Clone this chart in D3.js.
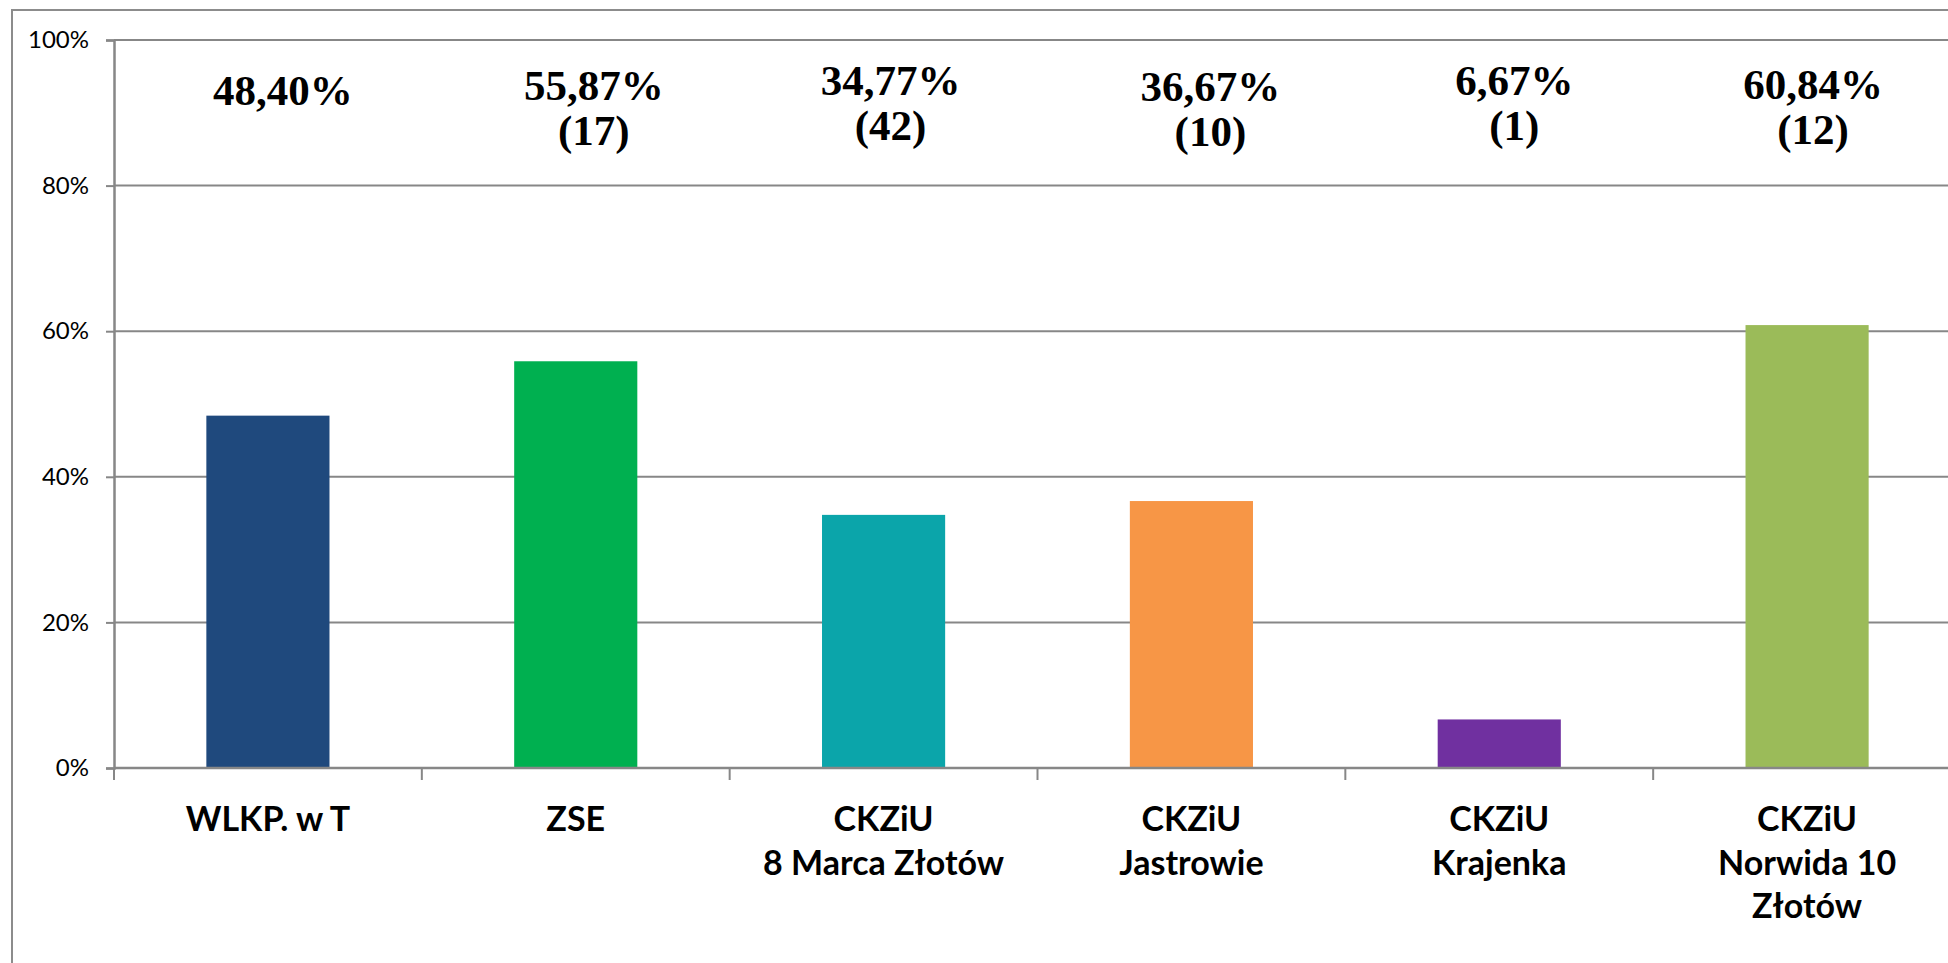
<!DOCTYPE html>
<html>
<head>
<meta charset="utf-8">
<script src="https://cdn.jsdelivr.net/npm/d3@7"></script>
<style>
  html, body { margin: 0; padding: 0; background: #ffffff; }
  svg { display: block; }
</style>
</head>
<body>
<svg id="chart" width="1948" height="963"></svg>
<script>
// ---- data ----
const categories = ["WLKP. w T", "ZSE", "CKZiU\n8 Marca Złotów", "CKZiU\nJastrowie", "CKZiU\nKrajenka", "CKZiU\nNorwida 10\nZłotów"];
const values = [0.4840, 0.5587, 0.3477, 0.3667, 0.0667, 0.6084];
const counts = [null, 17, 42, 10, 1, 12];
const yTicks = [0, 0.2, 0.4, 0.6, 0.8, 1.0];
const barColors = ["#1F497D", "#00B050", "#0BA5AA", "#F79646", "#7030A0", "#9BBB59"];

// ---- layout (manual label placement as in the original) ----
const labelDx = [15, 18, 7, 19, 15, 6];
const labelBaseline = [105, 100, 95, 101, 95, 99];
const plot = { left: 114, top: 40, bottom: 768, right: 1961 };

const svg = d3.select("#chart");
const loc = d3.formatLocale({ decimal: ",", thousands: " ", grouping: [3], currency: ["", ""] });
const pct2 = loc.format(".2%");
const pct0 = d3.format(".0%");

const x = d3.scaleBand().domain(categories).range([plot.left, plot.right]).paddingInner(0.6).paddingOuter(0.3);
const y = d3.scaleLinear().domain([0, 1]).range([plot.bottom, plot.top]);

// outer chart border
svg.append("rect")
  .attr("x", 12).attr("y", 10).attr("width", 2100).attr("height", 1100)
  .attr("fill", "none").attr("stroke", "#8c8c8c").attr("stroke-width", 2);

// gridlines
svg.append("g").selectAll("line").data(yTicks.filter(d => d > 0)).join("line")
  .attr("x1", plot.left).attr("x2", 1948)
  .attr("y1", d => y(d)).attr("y2", d => y(d))
  .attr("stroke", "#878787").attr("stroke-width", 2);

// bars
svg.append("g").selectAll("rect").data(categories).join("rect")
  .attr("x", d => x(d))
  .attr("width", x.bandwidth())
  .attr("y", (d, i) => y(values[i]))
  .attr("height", (d, i) => y(0) - y(values[i]))
  .attr("fill", (d, i) => barColors[i]);

// y axis
const yAxis = svg.append("g").attr("transform", `translate(${plot.left},0)`)
  .call(d3.axisLeft(y).tickValues(yTicks).tickFormat(pct0).tickSize(8).tickPadding(17));
yAxis.select(".domain").attr("stroke", "#878787").attr("stroke-width", 2.5);
yAxis.selectAll(".tick line").attr("stroke", "#878787").attr("stroke-width", 2);
yAxis.selectAll(".tick text")
  .attr("font-family", "Lato, 'Open Sans', sans-serif")
  .attr("font-size", 24).attr("fill", "#000");

// x axis line + boundary ticks
svg.append("line")
  .attr("x1", plot.left).attr("x2", 1948)
  .attr("y1", y(0)).attr("y2", y(0))
  .attr("stroke", "#878787").attr("stroke-width", 2.5);
const gap = (x.step() - x.bandwidth()) / 2;
const bounds = categories.map(d => x(d) - gap).concat([x(categories[categories.length - 1]) + x.bandwidth() + gap]);
svg.append("g").selectAll("line").data(bounds).join("line")
  .attr("x1", d => d).attr("x2", d => d)
  .attr("y1", y(0)).attr("y2", y(0) + 12)
  .attr("stroke", "#878787").attr("stroke-width", 2);

// category labels
const catG = svg.append("g").selectAll("text").data(categories).join("text")
  .attr("text-anchor", "middle")
  .attr("font-family", "Lato, 'Open Sans', sans-serif")
  .attr("font-weight", "bold")
  .attr("font-size", 34)
  .attr("fill", "#000");
catG.each(function (d) {
  const cx = x(d) + x.bandwidth() / 2;
  d3.select(this).selectAll("tspan").data(d.split("\n")).join("tspan")
    .attr("x", cx)
    .attr("y", (t, j) => 831 + j * 43.5)
    .text(t => t);
});

// value labels
const valG = svg.append("g").selectAll("text").data(categories).join("text")
  .attr("text-anchor", "middle")
  .attr("font-family", "'Liberation Serif', 'Times New Roman', serif")
  .attr("font-weight", "bold")
  .attr("font-size", 43)
  .attr("fill", "#000");
valG.each(function (d, i) {
  const cx = x(d) + x.bandwidth() / 2 + labelDx[i];
  const lines = [pct2(values[i])];
  if (counts[i] !== null) lines.push("(" + counts[i] + ")");
  d3.select(this).selectAll("tspan").data(lines).join("tspan")
    .attr("x", cx)
    .attr("y", (t, j) => labelBaseline[i] + j * 45)
    .text(t => t);
});
</script>
</body>
</html>
